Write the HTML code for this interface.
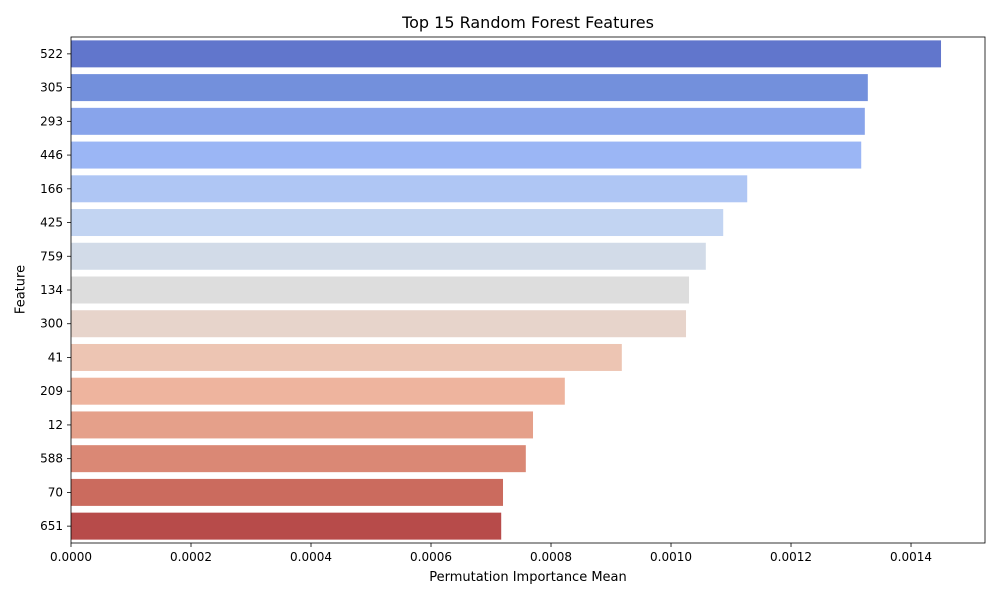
<!DOCTYPE html>
<html><head><meta charset="utf-8"><style>
html,body{margin:0;padding:0;background:#fff;width:1000px;height:600px;overflow:hidden;font-family:"Liberation Sans","DejaVu Sans",sans-serif;}
svg{display:block;}
svg text{font-family:"DejaVu Sans","Liberation Sans",sans-serif;}
</style></head><body>
<svg id="c" width="1000" height="600"></svg>
<script>
const features=["522","305","293","446","166","425","759","134","300","41","209","12","588","70","651"];
const values=[0.00145,0.001328,0.001323,0.001317,0.001127,0.001087,0.001058,0.00103,0.001025,0.000918,0.000823,0.00077,0.000758,0.00072,0.000717];
const colors=["#6176cc","#7390dc","#88a4eb","#9bb6f5","#afc6f4","#c2d4f2","#d2dbe8","#dddddd","#e7d4cb","#edc5b3","#eeb49e","#e5a08a","#da8875","#cb6b5e","#b74b4a"];
const ticks=[0,0.0002,0.0004,0.0006,0.0008,0.0010,0.0012,0.0014];
const tickLabels=["0.0000","0.0002","0.0004","0.0006","0.0008","0.0010","0.0012","0.0014"];
const L=71,R=985,T=37,B=543,xmax=0.0015233;
const NS="http://www.w3.org/2000/svg",svg=document.getElementById('c');
function x(v){return L+v/xmax*(R-L);}
const band=(B-T)/features.length;
function y(i){return T+i*band;}
function mk(t,a,p){const e=document.createElementNS(NS,t);for(const k in a)e.setAttribute(k,a[k]);(p||svg).appendChild(e);return e;}
features.forEach((f,i)=>{
 const r=mk('rect',{x:L,y:y(i)+band*0.1,width:x(values[i])-L,height:band*0.8,fill:colors[i]});
 
 
 mk('line',{x1:L-4,x2:L,y1:y(i)+band/2,y2:y(i)+band/2,stroke:'#000','stroke-width':0.8});
 const t=mk('text',{x:L-8,y:y(i)+band/2+4,'text-anchor':'end','font-size':12});
 t.textContent=f;
 
 
});
ticks.forEach((v,i)=>{
 mk('line',{x1:x(v),x2:x(v),y1:B,y2:B+4,stroke:'#000','stroke-width':0.8});
 const t=mk('text',{x:x(v),y:B+18,'text-anchor':'middle','font-size':12});
 t.textContent=tickLabels[i];
 
 
});
const fr=mk('rect',{x:L,y:T,width:R-L,height:B-T,fill:'none',stroke:'#000','stroke-width':0.8});


</script>
<div style="position:absolute;left:0;top:0;width:1000px;height:600px;pointer-events:none">
<div style="position:absolute;left:71px;width:914px;top:13px;text-align:center;font-size:16px;font-family:'DejaVu Sans',sans-serif">Top 15 Random Forest Features</div>
<div style="position:absolute;left:71px;width:914px;top:570px;text-align:center;font-size:13px;font-family:'DejaVu Sans',sans-serif">Permutation Importance Mean</div>
<div style="position:absolute;left:-9px;top:282px;width:60px;text-align:center;transform:rotate(-90deg);font-size:13px;font-family:'DejaVu Sans',sans-serif">Feature</div>
</div>
</body></html>
